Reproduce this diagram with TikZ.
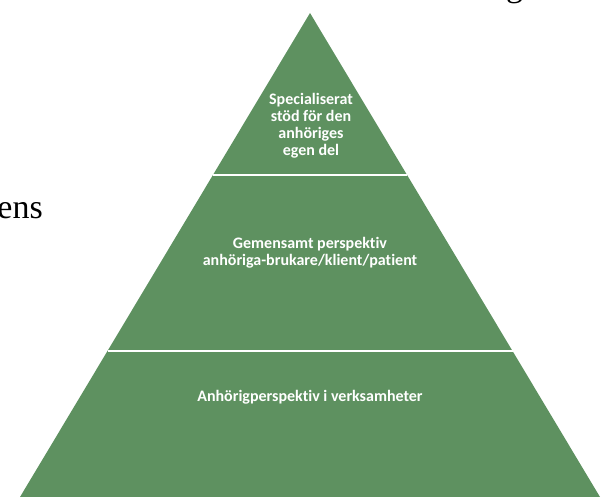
\documentclass[tikz,border=0pt]{standalone}
\usepackage{fontspec}
\setmainfont{Liberation Serif}
\newfontfamily\lblfont[Ligatures=NoCommon]{Carlito}
\definecolor{pyrgreen}{RGB}{94,145,96}
\begin{document}
\begin{tikzpicture}[x=1pt,y=-1pt,
  tier/.style={fill=pyrgreen,draw=none},
  sep/.style={draw=white,line width=2pt},
  lbl/.style={text=white,font=\lblfont\bfseries\fontsize{16}{17}\selectfont,align=center,inner sep=0pt},
  frag/.style={font=\fontsize{34}{40}\selectfont,inner sep=0pt,text=black}]
\useasboundingbox (0,0) rectangle (612,497);
\clip (0,0) rectangle (612,497);
\coordinate (apex) at (310,13);
\coordinate (bl) at (20,497);
\coordinate (br) at (600,497);
\coordinate (s1l) at (213,175);
\coordinate (s1r) at (407,175);
\coordinate (s2l) at (107.5,351);
\coordinate (s2r) at (512.5,351);
\fill[tier] (apex) -- (br) -- (bl) -- cycle;
\draw[sep] (s1l) -- (s1r);
\draw[sep] (s2l) -- (s2r);
\node[lbl] (top) at (311,125.5) {Specialiserat\\stöd för den\\anhöriges\\egen del};
\node[lbl] (mid) at (310,253) {Gemensamt perspektiv\\anhöriga-brukare/klient/patient};
\node[lbl] (bot) at (310,397) {Anhörigperspektiv i verksamheter};
\node[frag,anchor=base east] (ens) at (43,218) {ens};
\node[frag,anchor=base west] (gfrag) at (506,-3) {g};
\end{tikzpicture}
\end{document}
